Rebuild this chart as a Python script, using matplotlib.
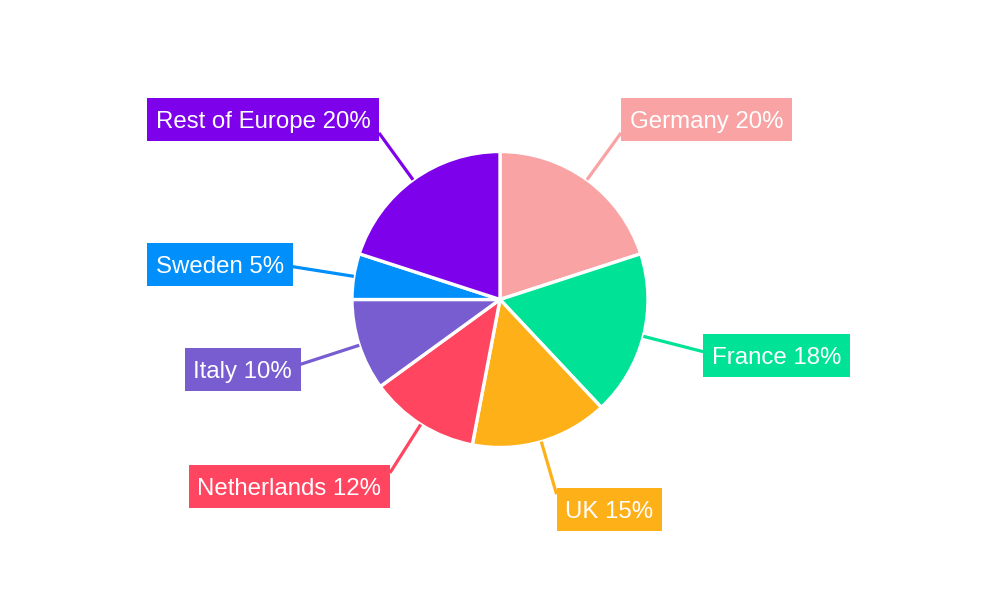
import numpy as np
import matplotlib
matplotlib.use('Agg')
import matplotlib.pyplot as plt
from matplotlib.patches import Rectangle

plt.rcParams['font.family'] = ['Liberation Sans', 'DejaVu Sans']

# 数据
countries = ['Germany', 'France', 'UK', 'Netherlands', 'Italy', 'Sweden', 'Rest of Europe']
shares = [20, 18, 15, 12, 10, 5, 20]
colors = ['#F9A3A4', '#00E396', '#FEB019', '#FF4560', '#775DD0', '#008FFB', '#7D02EB']

# 画布: 1 单位 = 1 像素
fig = plt.figure(figsize=(10, 6), dpi=100)
ax = fig.add_axes([0, 0, 1, 1])

cx, cy, r = 500, 300.5, 148
wedges, _ = ax.pie(shares, colors=colors, startangle=90, counterclock=False,
                   center=(cx, cy), radius=r,
                   wedgeprops=dict(edgecolor='white', linewidth=2.4))

ax.set_xlim(0, 1000)
ax.set_ylim(0, 600)
ax.set_aspect('equal')
ax.axis('off')

renderer = fig.canvas.get_renderer()
pad_x, box_h, cap_h = 8.5, 43, 17

# 引线和标签
total = sum(shares)
cum = np.cumsum([0] + shares)
for i, (name, val, col) in enumerate(zip(countries, shares, colors)):
    mid = (cum[i] + cum[i + 1]) / 2 / total
    theta = np.deg2rad(90 - 360 * mid)
    c, s = np.cos(theta), np.sin(theta)
    rr = r * (1.35 + 0.07 * abs(c))
    x0, y0 = cx + r * c, cy + r * s
    x1, y1 = cx + rr * c, cy + rr * s
    ax.plot([x0, x1], [y0, y1], color=col, lw=2.3, solid_capstyle='butt', zorder=1)

    right = c >= 0
    yc = y1 + 16 * s
    tx = x1 + pad_x if right else x1 - pad_x
    t = ax.text(tx, yc - cap_h / 2, f'{name} {val}%', ha='left' if right else 'right',
                va='baseline', color='white', fontsize=17.3, zorder=3)
    w = t.get_window_extent(renderer).width + 2 * pad_x
    bx = x1 if right else x1 - w
    ax.add_patch(Rectangle((bx, yc - box_h / 2), w, box_h, fc=col, ec='none', zorder=2))

fig.savefig('out.png', dpi=100)
